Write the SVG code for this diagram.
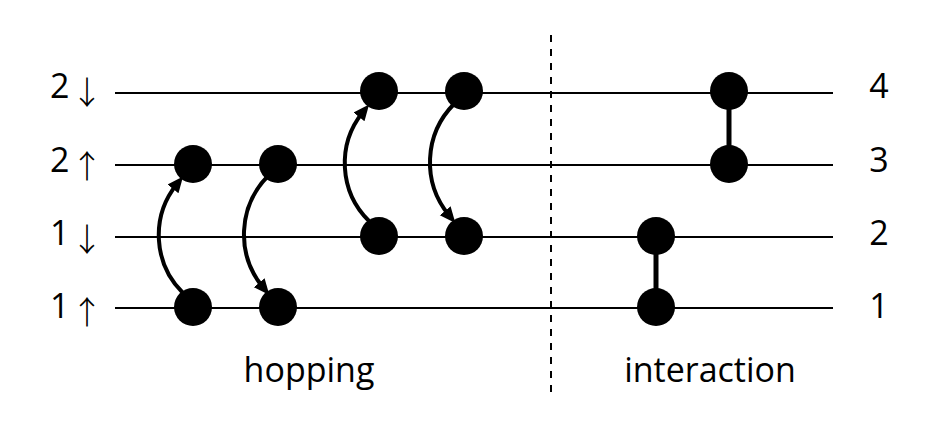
<svg xmlns="http://www.w3.org/2000/svg" width="946" height="440" viewBox="0 0 946 440">
<style>
.lvl{stroke:#000;stroke-width:2;fill:none}
.dot{fill:#000}
.hop{stroke:#000;stroke-width:4;fill:none;marker-end:url(#ah)}
.bond{stroke:#000;stroke-width:5}
.lbl{font-family:"Open Sans","Noto Sans","DejaVu Sans",sans-serif;font-size:34px;fill:#000}
.arr{font-family:"Noto Sans CJK JP","DejaVu Sans",sans-serif;font-size:32px;font-weight:300;fill:#000}
.mid{text-anchor:middle}
</style>
<defs>
<marker id="ah" markerUnits="userSpaceOnUse" markerWidth="18" markerHeight="16" refX="6" refY="7" orient="auto">
<path d="M0,0 L16,7 L0,14 z" fill="#000"/>
</marker>
</defs>
<rect width="946" height="440" fill="#fff"/>
<g id="levels">
<line class="lvl" x1="115" y1="93" x2="833" y2="93"/>
<line class="lvl" x1="115" y1="165" x2="833" y2="165"/>
<line class="lvl" x1="115" y1="237" x2="833" y2="237"/>
<line class="lvl" x1="115" y1="308" x2="833" y2="308"/>
<line x1="551" y1="35" x2="551" y2="392" stroke="#000" stroke-width="2" stroke-dasharray="7 7"/>
</g>
<g id="left-labels">
<text class="lbl" x="50" y="98">2</text><text class="arr mid" x="87" y="104">↓</text>
<text class="lbl" x="50" y="172">2</text><text class="arr mid" x="87" y="178">↑</text>
<text class="lbl" x="50" y="245">1</text><text class="arr mid" x="87" y="251">↓</text>
<text class="lbl" x="50" y="318">1</text><text class="arr mid" x="87" y="324">↑</text>
</g>
<g id="right-labels">
<text class="lbl mid" x="879" y="98">4</text>
<text class="lbl mid" x="879" y="172">3</text>
<text class="lbl mid" x="879" y="245">2</text>
<text class="lbl mid" x="879" y="318">1</text>
</g>
<g id="connectors">
<path class="hop" d="M183 293 A81 81 0 0 1 176.8 184.3"/>
<path class="hop" d="M268 176 A83 83 0 0 0 263 287.3"/>
<path class="hop" d="M369 221 A81 81 0 0 1 362.8 112.3"/>
<path class="hop" d="M454 104 A83 83 0 0 0 449 215.3"/>
<line class="bond" x1="656" y1="237" x2="656" y2="308"/>
<line class="bond" x1="729" y1="91" x2="729" y2="164"/>
</g>
<g id="hop1"><circle class="dot" cx="193" cy="307" r="19"/><circle class="dot" cx="193" cy="164" r="19"/></g>
<g id="hop2"><circle class="dot" cx="278" cy="307" r="19"/><circle class="dot" cx="278" cy="164" r="19"/></g>
<g id="hop3"><circle class="dot" cx="379" cy="236" r="19"/><circle class="dot" cx="379" cy="91" r="19"/></g>
<g id="hop4"><circle class="dot" cx="464" cy="236" r="19"/><circle class="dot" cx="464" cy="91" r="19"/></g>
<g id="int1"><circle class="dot" cx="656" cy="236" r="19"/><circle class="dot" cx="656" cy="307" r="19"/></g>
<g id="int2"><circle class="dot" cx="729" cy="91" r="19"/><circle class="dot" cx="729" cy="164" r="19"/></g>
<g id="captions">
<text class="lbl mid" x="309" y="382">hopping</text>
<text class="lbl mid" x="710" y="382">interaction</text>
</g>
</svg>
